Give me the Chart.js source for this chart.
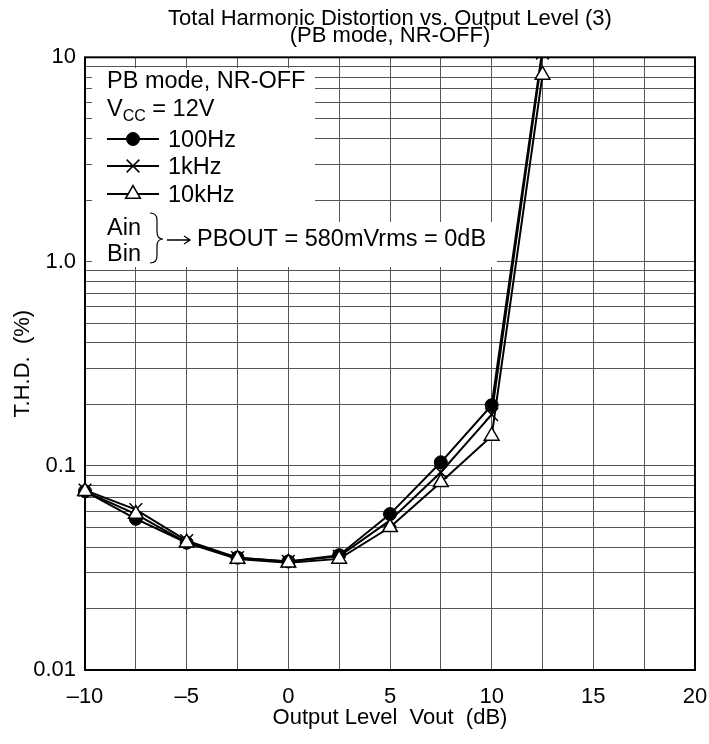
<!DOCTYPE html>
<html>
<head>
<meta charset="utf-8">
<title>Total Harmonic Distortion vs. Output Level (3)</title>
<script src="https://cdn.jsdelivr.net/npm/chart.js@4.4.0/dist/chart.umd.min.js"></script>
<style>
  html, body { margin: 0; padding: 0; background: #fff; }
  #wrap { width: 709px; height: 744px; }
</style>
</head>
<body>
<div id="wrap"><canvas id="thdChart" width="709" height="744"></canvas></div>
<script>
// values
const outputLevels = [-10, -7.5, -5, -2.5, 0, 2.5, 5, 7.5, 10, 12.5];
const thd100Hz = [0.075, 0.055, 0.042, 0.0355, 0.034, 0.0365, 0.058, 0.104, 0.198, 11];
const thd1kHz = [0.076, 0.061, 0.043, 0.0355, 0.034, 0.036, 0.054, 0.093, 0.178, 10.5];
const thd10kHz = [0.075, 0.058, 0.042, 0.035, 0.0335, 0.035, 0.05, 0.083, 0.14, 8.2];

const yDecades = [0.01, 0.1, 1, 10];
const yDecadeLabels = ['0.01', '0.1', '1.0', '10'];
const xMin = -10, xMax = 20, xStep = 2.5, xLabelEvery = 5;

const titleLines = ['Total Harmonic Distortion vs. Output Level (3)', '(PB mode, NR-OFF)'];

document.addEventListener('DOMContentLoaded', function() {
    Chart.defaults.font.family = "'Liberation Sans', Arial, Helvetica, sans-serif";
    Chart.defaults.color = '#000';

    // log grid: 1..9 in each decade
    const yGrid = [];
    for (let i = 0; i < yDecades.length - 1; i++) {
        for (let k = 1; k <= 9; k++) yGrid.push(+(yDecades[i] * k).toPrecision(3));
    }
    yGrid.push(yDecades[yDecades.length - 1]);

    const toPoints = arr => arr.map((v, i) => ({ x: outputLevels[i], y: v }));

    const seriesStyle = {
        '100Hz': { pointStyle: 'circle', pointRadius: 6.5, pointBackgroundColor: '#000', pointBorderWidth: 1 },
        '1kHz': { pointStyle: 'crossRot', pointRadius: 9, pointBackgroundColor: '#000', pointBorderWidth: 1.5 },
        '10kHz': { pointStyle: 'triangle', pointRadius: 8.5, pointBackgroundColor: '#fff', pointBorderWidth: 1.5 }
    };

    const mkSet = (label, data) => Object.assign({
        label: label,
        data: toPoints(data),
        borderColor: '#000',
        pointBorderColor: '#000',
        borderWidth: 2,
        tension: 0,
        clip: { left: 12, right: 12, top: 0, bottom: 12 }
    }, seriesStyle[label]);

    // legend box + frame drawn inside the plot area
    const notePlugin = {
        id: 'note',
        beforeDatasetsDraw(chart) {
            const ctx = chart.ctx;
            const a = chart.chartArea;
            ctx.save();
            ctx.fillStyle = '#fff';
            ctx.fillRect(92, 68, 223, 199);
            ctx.fillRect(315, 222, 182, 45);

            ctx.strokeStyle = '#000';
            ctx.lineWidth = 2;
            ctx.strokeRect(a.left, a.top, a.right - a.left, a.bottom - a.top);

            ctx.fillStyle = '#000';
            ctx.textBaseline = 'alphabetic';
            ctx.textAlign = 'left';
            const f = "'Liberation Sans', Arial, sans-serif";
            ctx.font = '23.5px ' + f;
            ctx.fillText('PB mode, NR-OFF', 107, 88);
            ctx.fillText('V', 107, 116);
            const vw = ctx.measureText('V').width;
            ctx.font = '16px ' + f;
            ctx.fillText('CC', 107 + vw, 121);
            const cw = ctx.measureText('CC').width;
            ctx.font = '23.5px ' + f;
            ctx.fillText(' = 12V', 107 + vw + cw, 116);

            const rows = [['100Hz', 139], ['1kHz', 166], ['10kHz', 194]];
            rows.forEach(([name, y]) => {
                const st = seriesStyle[name];
                ctx.strokeStyle = '#000';
                ctx.lineWidth = 2;
                ctx.beginPath();
                ctx.moveTo(107, y);
                ctx.lineTo(159, y);
                ctx.stroke();
                ctx.fillStyle = st.pointBackgroundColor;
                ctx.lineWidth = st.pointBorderWidth;
                Chart.helpers.drawPoint(ctx, {
                    pointStyle: st.pointStyle, radius: st.pointRadius, rotation: 0, borderWidth: st.pointBorderWidth
                }, 133, y);
                ctx.fillStyle = '#000';
                ctx.fillText(name, 168, y + 8);
            });

            ctx.fillText('Ain', 107, 235);
            ctx.fillText('Bin', 107, 261);

            // brace
            ctx.lineWidth = 1.2;
            ctx.beginPath();
            ctx.moveTo(150, 213);
            ctx.quadraticCurveTo(157, 213, 157, 220);
            ctx.lineTo(157, 232);
            ctx.quadraticCurveTo(157, 239, 163, 239);
            ctx.quadraticCurveTo(157, 239, 157, 246);
            ctx.lineTo(157, 256);
            ctx.quadraticCurveTo(157, 263, 150, 263);
            ctx.stroke();

            // arrow
            ctx.lineWidth = 1.3;
            ctx.beginPath();
            ctx.moveTo(167, 240);
            ctx.lineTo(190, 240);
            ctx.moveTo(184, 236);
            ctx.lineTo(190, 240);
            ctx.lineTo(184, 244);
            ctx.stroke();

            ctx.fillText('PBOUT = 580mVrms = 0dB', 197, 246);
            ctx.restore();
        }
    };

    const ctx = document.getElementById('thdChart').getContext('2d');
    new Chart(ctx, {
        type: 'line',
        data: {
            datasets: [
                mkSet('10kHz', thd10kHz),
                mkSet('1kHz', thd1kHz),
                mkSet('100Hz', thd100Hz)
            ]
        },
        options: {
            responsive: false,
            animation: false,
            devicePixelRatio: 1,
            layout: { padding: { left: 0, right: 14, top: 0, bottom: 0 } },
            plugins: {
                legend: { display: false },
                tooltip: { enabled: false },
                title: {
                    display: true,
                    text: titleLines,
                    fullSize: false,
                    color: '#000',
                    font: { size: 22, weight: 'normal', lineHeight: 0.78 },
                    padding: { top: 10, bottom: 13 }
                }
            },
            scales: {
                x: {
                    type: 'linear',
                    min: xMin,
                    max: xMax,
                    afterFit: s => { s.height = 74; s.paddingLeft = 0; s.paddingRight = 0; },
                    grid: { color: '#555', lineWidth: 1, drawTicks: false },
                    border: { display: false },
                    ticks: {
                        stepSize: xStep,
                        autoSkip: false,
                        maxRotation: 0,
                        padding: 14,
                        color: '#000',
                        font: { size: 22 },
                        callback: v => (v % xLabelEvery === 0) ? (v < 0 ? '\u2013' + Math.abs(v) : String(v)) : ''
                    },
                    title: {
                        display: true,
                        text: 'Output Level  Vout  (dB)',
                        color: '#000',
                        font: { size: 22 },
                        padding: { top: 0, bottom: 13 }
                    }
                },
                y: {
                    type: 'logarithmic',
                    min: yDecades[0],
                    max: yDecades[yDecades.length - 1],
                    afterBuildTicks: s => { s.ticks = yGrid.map(v => ({ value: v })); },
                    afterFit: s => { s.width = 85; },
                    grid: { color: '#555', lineWidth: 1, drawTicks: false },
                    border: { display: false },
                    ticks: {
                        autoSkip: false,
                        padding: 9,
                        color: '#000',
                        font: { size: 22 },
                        callback: v => {
                            const i = yDecades.findIndex(d => Math.abs(d - v) / d < 1e-6);
                            return i >= 0 ? yDecadeLabels[i] : '';
                        }
                    },
                    title: {
                        display: true,
                        text: 'T.H.D.  (%)',
                        color: '#000',
                        font: { size: 22 },
                        padding: { top: 10, bottom: 0 }
                    }
                }
            }
        },
        plugins: [notePlugin]
    });
});
</script>
</body>
</html>
